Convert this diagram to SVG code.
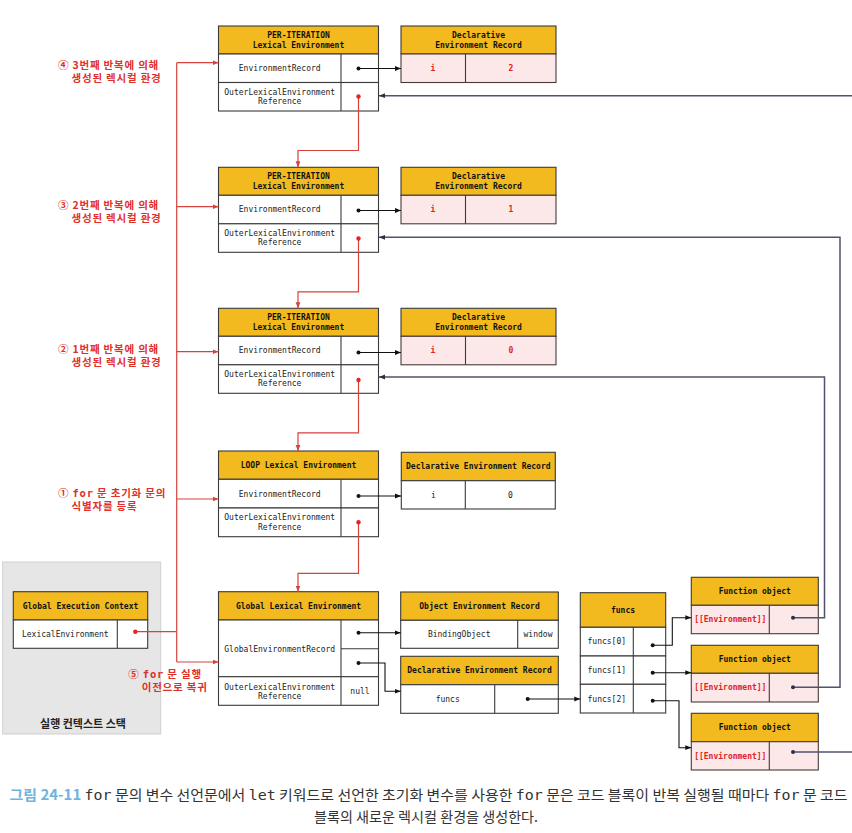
<svg xmlns="http://www.w3.org/2000/svg" width="852" height="833" viewBox="0 0 852 833">
<defs>
<style>
.hdr{fill:#F2BA1E;stroke:#3a3a3a;stroke-width:1.1}
.cell{fill:#fff;stroke:#3a3a3a;stroke-width:1.1}
.pink{fill:#FCE8E8;stroke:#4a3a3a;stroke-width:1.1}
.div{stroke:#3a3a3a;stroke-width:1.1}
.m{font-family:"DejaVu Sans Mono","Liberation Mono",monospace;font-size:8px;fill:#222;text-anchor:middle}
.mb{font-family:"DejaVu Sans Mono","Liberation Mono",monospace;font-size:8px;font-weight:bold;fill:#111;text-anchor:middle}
.red{fill:#E02222}
.lbl{font-family:"Noto Sans CJK KR","Noto Sans",sans-serif;font-size:10.5px;letter-spacing:0.8px;font-weight:bold;fill:#E0302A}
.lblm{font-family:"DejaVu Sans Mono",monospace;font-weight:bold}
.blk{fill:none;stroke:#111;stroke-width:1.1}
.rl{fill:none;stroke:#D8423C;stroke-width:1.2}
.nv{fill:none;stroke:#50536E;stroke-width:1.5}
.dk{fill:#111}
.dr{fill:#E02626}
.dn{fill:#2c2f4a}
</style>
<marker id="ab" viewBox="0 0 6 6" refX="6" refY="3" markerWidth="6" markerHeight="6" orient="auto" markerUnits="userSpaceOnUse"><path d="M0,0.6 L6,3 L0,5.4z" fill="#111"/></marker>
<marker id="ar" viewBox="0 0 6 6" refX="6" refY="3" markerWidth="6" markerHeight="6" orient="auto" markerUnits="userSpaceOnUse"><path d="M0,0.6 L6,3 L0,5.4z" fill="#D8423C"/></marker>
<marker id="an" viewBox="0 0 6 6" refX="6" refY="3" markerWidth="6" markerHeight="6" orient="auto" markerUnits="userSpaceOnUse"><path d="M0,0.6 L6,3 L0,5.4z" fill="#2c2f4a"/></marker>
</defs>
<rect width="852" height="833" fill="#fff"/>

<!-- Execution context stack background -->
<g id="ec-stack">
<rect x="2.7" y="562" width="158" height="172" fill="#E6E6E6" stroke="#cfcfcf" stroke-width="1"/>
<text x="83" y="727.5" text-anchor="middle" style="font-family:'Noto Sans CJK KR','Noto Sans',sans-serif;font-size:11px;font-weight:bold;fill:#222">실행 컨텍스트 스택</text>
</g>

<!-- Left labels -->
<g id="labels">
<text class="lbl" x="58" y="68.5">④ 3번째 반복에 의해</text>
<text class="lbl" x="71.5" y="81.5">생성된 렉시컬 환경</text>
<text class="lbl" x="58" y="208.5">③ 2번째 반복에 의해</text>
<text class="lbl" x="71.5" y="221.5">생성된 렉시컬 환경</text>
<text class="lbl" x="58" y="353">② 1번째 반복에 의해</text>
<text class="lbl" x="71.5" y="366">생성된 렉시컬 환경</text>
<text class="lbl" x="58" y="496.5">① <tspan class="lblm">for</tspan> 문 초기화 문의</text>
<text class="lbl" x="71.5" y="509.5">식별자를 등록</text>
<text class="lbl" x="128.3" y="677.5">⑤ <tspan class="lblm">for</tspan> 문 실행</text>
<text class="lbl" x="141.7" y="690.5">이전으로 복귀</text>
</g>

<!-- PER-ITERATION boxes -->
<g id="per-iter-3">
<rect class="hdr" x="218.5" y="26" width="160" height="28"/>
<rect class="cell" x="218.5" y="54" width="160" height="28.5"/>
<rect class="cell" x="218.5" y="82.5" width="160" height="28.5"/>
<line class="div" x1="341" y1="54" x2="341" y2="111"/>
<text class="mb" x="298.5" y="38">PER-ITERATION</text>
<text class="mb" x="298.5" y="47.5">Lexical Environment</text>
<text class="m" x="279.7" y="71">EnvironmentRecord</text>
<text class="m" x="279.7" y="94.5">OuterLexicalEnvironment</text>
<text class="m" x="279.7" y="104">Reference</text>
</g>
<g id="decl-3">
<rect class="hdr" x="401" y="26" width="155" height="28"/>
<rect class="pink" x="401" y="54" width="155" height="28.5"/>
<line class="div" x1="465.5" y1="54" x2="465.5" y2="82.5"/>
<text class="mb" x="478.5" y="38">Declarative</text>
<text class="mb" x="478.5" y="47.5">Environment Record</text>
<text class="mb red" x="433" y="71">i</text>
<text class="mb red" x="510.8" y="71">2</text>
</g>

<g id="per-iter-2" transform="translate(0,141.3)">
<rect class="hdr" x="218.5" y="26" width="160" height="28"/>
<rect class="cell" x="218.5" y="54" width="160" height="28.5"/>
<rect class="cell" x="218.5" y="82.5" width="160" height="28.5"/>
<line class="div" x1="341" y1="54" x2="341" y2="111"/>
<text class="mb" x="298.5" y="38">PER-ITERATION</text>
<text class="mb" x="298.5" y="47.5">Lexical Environment</text>
<text class="m" x="279.7" y="71">EnvironmentRecord</text>
<text class="m" x="279.7" y="94.5">OuterLexicalEnvironment</text>
<text class="m" x="279.7" y="104">Reference</text>
</g>
<g id="decl-2" transform="translate(0,141.3)">
<rect class="hdr" x="401" y="26" width="155" height="28"/>
<rect class="pink" x="401" y="54" width="155" height="28.5"/>
<line class="div" x1="465.5" y1="54" x2="465.5" y2="82.5"/>
<text class="mb" x="478.5" y="38">Declarative</text>
<text class="mb" x="478.5" y="47.5">Environment Record</text>
<text class="mb red" x="433" y="71">i</text>
<text class="mb red" x="510.8" y="71">1</text>
</g>

<g id="per-iter-1" transform="translate(0,282.3)">
<rect class="hdr" x="218.5" y="26" width="160" height="28"/>
<rect class="cell" x="218.5" y="54" width="160" height="28.5"/>
<rect class="cell" x="218.5" y="82.5" width="160" height="28.5"/>
<line class="div" x1="341" y1="54" x2="341" y2="111"/>
<text class="mb" x="298.5" y="38">PER-ITERATION</text>
<text class="mb" x="298.5" y="47.5">Lexical Environment</text>
<text class="m" x="279.7" y="71">EnvironmentRecord</text>
<text class="m" x="279.7" y="94.5">OuterLexicalEnvironment</text>
<text class="m" x="279.7" y="104">Reference</text>
</g>
<g id="decl-1" transform="translate(0,282.3)">
<rect class="hdr" x="401" y="26" width="155" height="28"/>
<rect class="pink" x="401" y="54" width="155" height="28.5"/>
<line class="div" x1="465.5" y1="54" x2="465.5" y2="82.5"/>
<text class="mb" x="478.5" y="38">Declarative</text>
<text class="mb" x="478.5" y="47.5">Environment Record</text>
<text class="mb red" x="433" y="71">i</text>
<text class="mb red" x="510.8" y="71">0</text>
</g>

<!-- LOOP -->
<g id="loop-env">
<rect class="hdr" x="218.5" y="451" width="160" height="28.3"/>
<rect class="cell" x="218.5" y="479.3" width="160" height="28.7"/>
<rect class="cell" x="218.5" y="508" width="160" height="28.7"/>
<line class="div" x1="341" y1="479.3" x2="341" y2="536.7"/>
<text class="mb" x="298.5" y="468">LOOP Lexical Environment</text>
<text class="m" x="279.7" y="496.5">EnvironmentRecord</text>
<text class="m" x="279.7" y="520">OuterLexicalEnvironment</text>
<text class="m" x="279.7" y="529.5">Reference</text>
</g>
<g id="loop-decl">
<rect class="hdr" x="401.3" y="452.3" width="154" height="28.4"/>
<rect class="cell" x="401.3" y="480.7" width="154" height="28.3"/>
<line class="div" x1="465.3" y1="480.7" x2="465.3" y2="509"/>
<text class="mb" x="478.3" y="469">Declarative Environment Record</text>
<text class="m" x="433.3" y="498">i</text>
<text class="m" x="510.3" y="498">0</text>
</g>

<!-- Global EC -->
<g id="global-ec">
<rect class="hdr" x="13.3" y="591.7" width="134.4" height="28.3"/>
<rect class="cell" x="13.3" y="620" width="134.4" height="28.3"/>
<line class="div" x1="117.3" y1="620" x2="117.3" y2="648.3"/>
<text class="mb" x="80.5" y="608.5">Global Execution Context</text>
<text class="m" x="65.3" y="637">LexicalEnvironment</text>
</g>

<!-- Global Lexical Environment -->
<g id="global-lex">
<rect class="hdr" x="218.5" y="591.7" width="160" height="28.3"/>
<rect class="cell" x="218.5" y="620" width="160" height="56.7"/>
<rect class="cell" x="218.5" y="676.7" width="160" height="28.6"/>
<line class="div" x1="341" y1="620" x2="341" y2="705.3"/>
<line class="div" x1="341" y1="648.7" x2="378.5" y2="648.7"/>
<text class="mb" x="298.5" y="608.5">Global Lexical Environment</text>
<text class="m" x="279.7" y="651.5">GlobalEnvironmentRecord</text>
<text class="m" x="279.7" y="689.5">OuterLexicalEnvironment</text>
<text class="m" x="279.7" y="699">Reference</text>
<text class="m" x="360" y="693.5">null</text>
</g>

<g id="object-env">
<rect class="hdr" x="400.7" y="592" width="157.6" height="28.3"/>
<rect class="cell" x="400.7" y="620.3" width="157.6" height="28"/>
<line class="div" x1="517.7" y1="620.3" x2="517.7" y2="648.3"/>
<text class="mb" x="479.5" y="608.7">Object Environment Record</text>
<text class="m" x="459.2" y="637">BindingObject</text>
<text class="m" x="538" y="637">window</text>
</g>

<g id="global-decl">
<rect class="hdr" x="400.7" y="656.3" width="157.6" height="28.4"/>
<rect class="cell" x="400.7" y="684.7" width="157.6" height="28.6"/>
<line class="div" x1="494.7" y1="684.7" x2="494.7" y2="713.3"/>
<text class="mb" x="479.5" y="673">Declarative Environment Record</text>
<text class="m" x="447.7" y="701.7">funcs</text>
</g>

<g id="funcs">
<rect class="hdr" x="580.3" y="592.7" width="85.4" height="34.6"/>
<rect class="cell" x="580.3" y="627.3" width="85.4" height="28.7"/>
<rect class="cell" x="580.3" y="656" width="85.4" height="28.3"/>
<rect class="cell" x="580.3" y="684.3" width="85.4" height="28.7"/>
<line class="div" x1="633.3" y1="627.3" x2="633.3" y2="713"/>
<text class="mb" x="623" y="612.7">funcs</text>
<text class="m" x="606.8" y="644">funcs[0]</text>
<text class="m" x="606.8" y="673">funcs[1]</text>
<text class="m" x="606.8" y="701.7">funcs[2]</text>
</g>

<g id="func-obj-0">
<rect class="hdr" x="691.3" y="577.3" width="127" height="28"/>
<rect class="pink" x="691.3" y="605.3" width="127" height="28.4"/>
<line class="div" x1="769.3" y1="605.3" x2="769.3" y2="633.7"/>
<text class="mb" x="754.8" y="593.7">Function object</text>
<text class="mb red" x="730.3" y="622.3">[[Environment]]</text>
</g>
<g id="func-obj-1">
<rect class="hdr" x="691.3" y="645.3" width="127" height="28"/>
<rect class="pink" x="691.3" y="673.3" width="127" height="28.7"/>
<line class="div" x1="769.3" y1="673.3" x2="769.3" y2="702"/>
<text class="mb" x="754.8" y="662">Function object</text>
<text class="mb red" x="730.3" y="690.3">[[Environment]]</text>
</g>
<g id="func-obj-2">
<rect class="hdr" x="691.3" y="713.3" width="127" height="28.4"/>
<rect class="pink" x="691.3" y="741.7" width="127" height="28.3"/>
<line class="div" x1="769.3" y1="741.7" x2="769.3" y2="770"/>
<text class="mb" x="754.8" y="730.3">Function object</text>
<text class="mb red" x="730.3" y="758.7">[[Environment]]</text>
</g>

<!-- Connectors -->
<g id="connectors">
<path class="blk" d="M358.5,68.5 H401" marker-end="url(#ab)"/>
<path class="blk" d="M358.5,210.5 H401" marker-end="url(#ab)"/>
<path class="blk" d="M358.5,352.5 H401" marker-end="url(#ab)"/>
<path class="blk" d="M358.5,496 H401" marker-end="url(#ab)"/>
<path class="blk" d="M358.5,632.7 H400.7" marker-end="url(#ab)"/>
<path class="blk" d="M358.5,663 H385 V691.3 H400.7" marker-end="url(#ab)"/>
<path class="blk" d="M527.7,699 H580.3" marker-end="url(#ab)"/>
<path class="blk" d="M652.7,645.3 H672.3 V617.7 H691.3" marker-end="url(#ab)"/>
<path class="blk" d="M652.7,672.7 H691.3" marker-end="url(#ab)"/>
<path class="blk" d="M652.7,700.7 H679 V747.7 H691.3" marker-end="url(#ab)"/>
<circle class="dk" cx="358.5" cy="68.5" r="2"/>
<circle class="dk" cx="358.5" cy="210.5" r="2"/>
<circle class="dk" cx="358.5" cy="352.5" r="2"/>
<circle class="dk" cx="358.5" cy="496" r="2"/>
<circle class="dk" cx="358.5" cy="632.7" r="2"/>
<circle class="dk" cx="358.5" cy="663" r="2"/>
<circle class="dk" cx="527.7" cy="699" r="2"/>
<circle class="dk" cx="652.7" cy="645.3" r="2"/>
<circle class="dk" cx="652.7" cy="672.7" r="2"/>
<circle class="dk" cx="652.7" cy="700.7" r="2"/>

<path class="rl" d="M358.5,96.5 V150.5 H298 V167.3" marker-end="url(#ar)"/>
<path class="rl" d="M358.5,238.5 V291.8 H298 V308.3" marker-end="url(#ar)"/>
<path class="rl" d="M358.5,380 V432.8 H298 V451" marker-end="url(#ar)"/>
<path class="rl" d="M358.5,522.3 V573.3 H298 V591.7" marker-end="url(#ar)"/>
<circle class="dr" cx="358.5" cy="96.5" r="2.2"/>
<circle class="dr" cx="358.5" cy="238.5" r="2.2"/>
<circle class="dr" cx="358.5" cy="380" r="2.2"/>
<circle class="dr" cx="358.5" cy="522.3" r="2.2"/>

<path class="rl" d="M176.7,62.7 V662"/>
<path class="rl" d="M176.7,62.7 H218.5" marker-end="url(#ar)"/>
<path class="rl" d="M176.7,206.7 H218.5" marker-end="url(#ar)"/>
<path class="rl" d="M176.7,351.7 H218.5" marker-end="url(#ar)"/>
<path class="rl" d="M176.7,499 H218.5" marker-end="url(#ar)"/>
<path class="rl" d="M176.7,662 H218.5" marker-end="url(#ar)"/>
<path class="rl" d="M135.3,631.7 H176.7"/>
<circle class="dr" cx="135.3" cy="631.7" r="2.2"/>

<path class="nv" d="M852,95.7 H379" marker-end="url(#an)"/>
<path class="nv" d="M793,752 H852"/>
<path class="nv" d="M793,687.3 H840 V237.3 H379" marker-end="url(#an)"/>
<path class="nv" d="M793,617.7 H824.5 V377 H379" marker-end="url(#an)"/>
<circle class="dn" cx="793" cy="617.7" r="2"/>
<circle class="dn" cx="793" cy="687.3" r="2"/>
<circle class="dn" cx="793" cy="752" r="2"/>
</g>

<!-- Caption -->
<g id="caption" style="font-family:'Noto Sans CJK KR','Noto Sans',sans-serif;font-size:14px;fill:#333">
<text x="9.5" y="800" textLength="838" lengthAdjust="spacingAndGlyphs"><tspan style="fill:#6FB3DE;font-weight:bold">그림 24-11</tspan> <tspan style="font-family:'DejaVu Sans Mono',monospace">for</tspan> 문의 변수 선언문에서 <tspan style="font-family:'DejaVu Sans Mono',monospace">let</tspan> 키워드로 선언한 초기화 변수를 사용한 <tspan style="font-family:'DejaVu Sans Mono',monospace">for</tspan> 문은 코드 블록이 반복 실행될 때마다 <tspan style="font-family:'DejaVu Sans Mono',monospace">for</tspan> 문 코드</text>
<text x="426" y="821.5" text-anchor="middle" textLength="224" lengthAdjust="spacingAndGlyphs">블록의 새로운 렉시컬 환경을 생성한다.</text>
</g>
</svg>
